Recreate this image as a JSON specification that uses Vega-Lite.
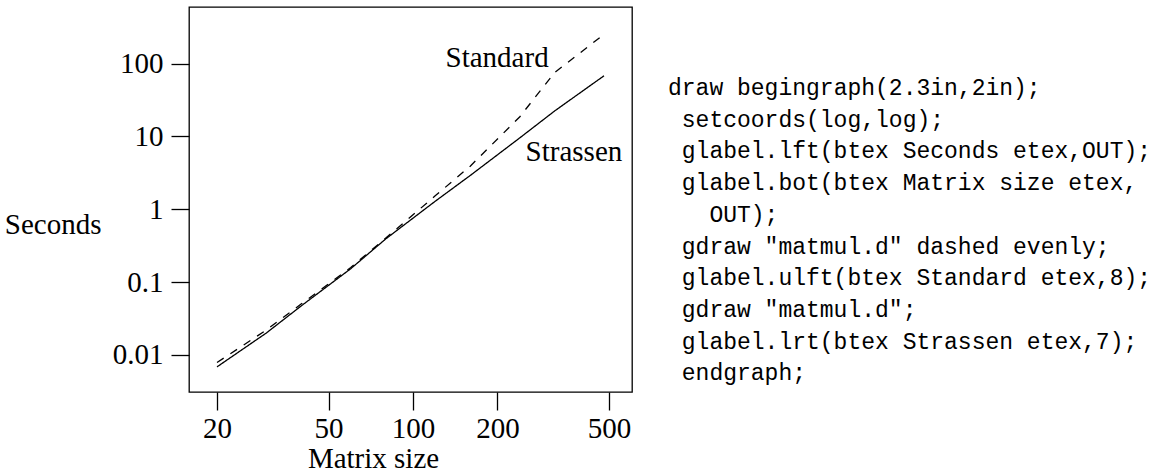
{
  "$schema": "https://vega.github.io/schema/vega-lite/v6.json",
  "background": "white",
  "autosize": {"type": "pad"},
  "padding": {"left": 3, "top": 6, "right": 5, "bottom": 0},
  "spacing": 35,
  "config": {
    "view": {"stroke": "black", "strokeWidth": 1.3},
    "axis": {
      "domain": false,
      "grid": false,
      "ticks": true,
      "tickColor": "black",
      "tickWidth": 1.3,
      "tickSize": 18,
      "labelFont": "Liberation Serif",
      "labelFontSize": 29,
      "labelColor": "black",
      "titleFont": "Liberation Serif",
      "titleFontSize": 29,
      "titleFontWeight": "normal",
      "titleColor": "black"
    }
  },
  "hconcat": [
    {
      "width": 443,
      "height": 385,
      "layer": [
        {
          "data": {
            "values": [
              {"n": 20, "time": 0.007861, "alg": "Standard"},
              {"n": 30, "time": 0.022051, "alg": "Standard"},
              {"n": 40, "time": 0.050391, "alg": "Standard"},
              {"n": 60, "time": 0.15922, "alg": "Standard"},
              {"n": 80, "time": 0.4031, "alg": "Standard"},
              {"n": 120, "time": 1.53, "alg": "Standard"},
              {"n": 160, "time": 3.915, "alg": "Standard"},
              {"n": 240, "time": 18.53, "alg": "Standard"},
              {"n": 320, "time": 75.42, "alg": "Standard"},
              {"n": 480, "time": 253.2, "alg": "Standard"},
              {"n": 20, "time": 0.006861, "alg": "Strassen"},
              {"n": 30, "time": 0.020051, "alg": "Strassen"},
              {"n": 40, "time": 0.047391, "alg": "Strassen"},
              {"n": 60, "time": 0.15322, "alg": "Strassen"},
              {"n": 80, "time": 0.3931, "alg": "Strassen"},
              {"n": 120, "time": 1.29, "alg": "Strassen"},
              {"n": 160, "time": 2.915, "alg": "Strassen"},
              {"n": 240, "time": 9.53, "alg": "Strassen"},
              {"n": 320, "time": 22.42, "alg": "Strassen"},
              {"n": 480, "time": 68.2, "alg": "Strassen"}
            ]
          },
          "mark": {"type": "line", "color": "black", "strokeWidth": 1.3},
          "encoding": {
            "x": {
              "field": "n",
              "type": "quantitative",
              "scale": {"type": "log", "domain": [15.89, 604], "nice": false},
              "axis": {
                "values": [20, 50, 100, 200, 500],
                "format": "d",
                "title": "Matrix size",
                "labelBaseline": "alphabetic",
                "labelPadding": 27,
                "titleX": 184,
                "titleY": 75,
                "titleAlign": "center",
                "titleBaseline": "alphabetic"
              }
            },
            "y": {
              "field": "time",
              "type": "quantitative",
              "scale": {"type": "log", "domain": [0.0031, 600], "nice": false},
              "axis": {
                "values": [0.01, 0.1, 1, 10, 100],
                "format": "~g",
                "title": "Seconds",
                "titleAngle": 0,
                "titleAlign": "right",
                "titleBaseline": "alphabetic",
                "titleX": -88,
                "titleY": 226,
                "labelPadding": 8,
                "labelBaseline": "middle"
              }
            },
            "strokeDash": {
              "field": "alg",
              "type": "nominal",
              "scale": {"domain": ["Standard", "Strassen"], "range": [[8, 8], [1, 0]]},
              "legend": null
            }
          }
        },
        {
          "data": {"values": [{"n": 320, "time": 75.42, "label": "Standard"}]},
          "mark": {"type": "text", "align": "right", "baseline": "alphabetic", "dx": -6, "dy": -6, "font": "Liberation Serif", "fontSize": 29, "color": "black"},
          "encoding": {
            "x": {"field": "n", "type": "quantitative"},
            "y": {"field": "time", "type": "quantitative"},
            "text": {"field": "label"}
          }
        },
        {
          "data": {"values": [{"n": 240, "time": 9.53, "label": "Strassen"}]},
          "mark": {"type": "text", "align": "left", "baseline": "alphabetic", "dx": 6, "dy": 23, "font": "Liberation Serif", "fontSize": 29, "color": "black"},
          "encoding": {
            "x": {"field": "n", "type": "quantitative"},
            "y": {"field": "time", "type": "quantitative"},
            "text": {"field": "label"}
          }
        }
      ]
    },
    {
      "width": 483,
      "height": 385,
      "view": {"stroke": null},
      "data": {
        "values": [
          {"line": 1, "indent": 0, "code": "draw begingraph(2.3in,2in);"},
          {"line": 2, "indent": 1, "code": "setcoords(log,log);"},
          {"line": 3, "indent": 1, "code": "glabel.lft(btex Seconds etex,OUT);"},
          {"line": 4, "indent": 1, "code": "glabel.bot(btex Matrix size etex,"},
          {"line": 5, "indent": 3, "code": "OUT);"},
          {"line": 6, "indent": 1, "code": "gdraw \"matmul.d\" dashed evenly;"},
          {"line": 7, "indent": 1, "code": "glabel.ulft(btex Standard etex,8);"},
          {"line": 8, "indent": 1, "code": "gdraw \"matmul.d\";"},
          {"line": 9, "indent": 1, "code": "glabel.lrt(btex Strassen etex,7);"},
          {"line": 10, "indent": 1, "code": "endgraph;"}
        ]
      },
      "mark": {"type": "text", "align": "left", "baseline": "alphabetic", "font": "Liberation Mono", "fontSize": 23, "color": "black"},
      "encoding": {
        "x": {"field": "indent", "type": "quantitative", "scale": {"domain": [0, 35], "nice": false, "zero": false}, "axis": null},
        "y": {"field": "line", "type": "quantitative", "scale": {"domain": [-1.776, 10.369], "reverse": true, "nice": false, "zero": false}, "axis": null},
        "text": {"field": "code"}
      }
    }
  ]
}
